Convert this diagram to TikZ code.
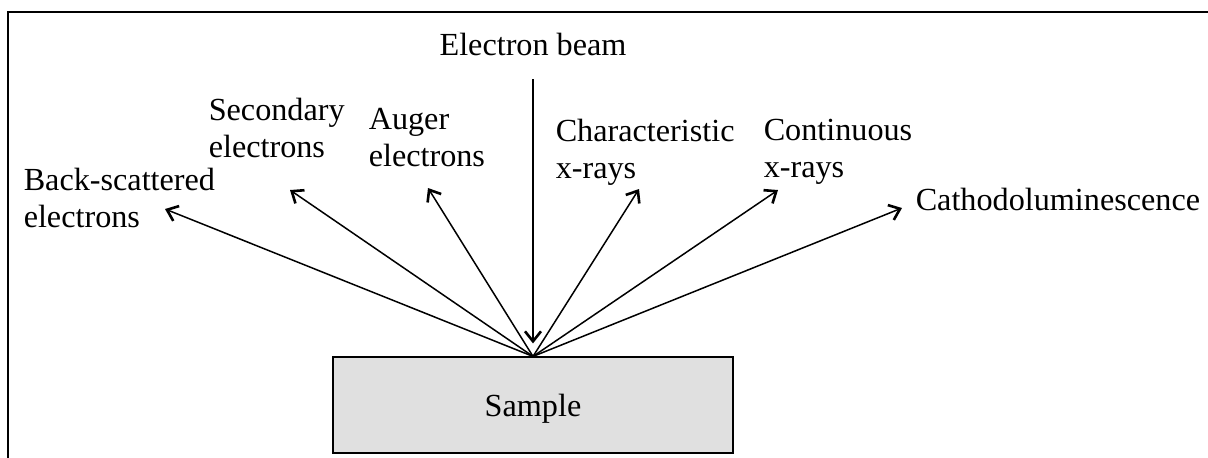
\documentclass[tikz,border=0pt]{standalone}
\usepackage{fontspec}
\setmainfont{Liberation Serif}
\usetikzlibrary{positioning,arrows.meta}

\begin{document}
\begin{tikzpicture}[x=0.5pt, y=-0.5pt, line width=0.75pt, >={Straight Barb[length=5pt,width=8pt,line width=1.3pt]},
    label/.style={inner sep=0pt, align=left, anchor=north west, font=\fontsize{16.1}{18.6}\selectfont},
    samplebox/.style={draw, fill=black!12, line width=0.6pt, minimum width=200pt, minimum height=48pt, text depth=0pt, font=\fontsize{16.1}{18.6}\selectfont}]
    \useasboundingbox (0,0) rectangle (1208,457);
    \draw[line width=1.4pt] (8,460) |- (1210,12);

    \node[samplebox] (sample) at (533,405) {Sample};
    \node[label, anchor=center] (beam) at (533,44) {Electron beam};

    \node[label] (bse) at (23,167) {Back-scattered\\electrons};
    \node[label] (se) at (208,97) {Secondary\\electrons};
    \node[label] (auger) at (368,107) {Auger\\electrons};
    \node[label] (charx) at (555,118) {Characteristic\\x-rays};
    \node[label] (contx) at (763,118) {Continuous\\x-rays};
    \node[label] (cl) at (915,187) {Cathodoluminescence};

    % arrow tips next to the labels
    \coordinate (bseTip) at (165,209);
    \coordinate (seTip) at (290,190);
    \coordinate (augerTip) at (428,188);
    \coordinate (charxTip) at (639,189);
    \coordinate (contxTip) at (778,190);
    \coordinate (clTip) at (902,208);

    \draw[->, shorten <=11.5pt, shorten >=6.5pt] (beam.south) -- (sample.north);
    \draw[->] (sample.north) -- (bseTip);
    \draw[->] (sample.north) -- (seTip);
    \draw[->] (sample.north) -- (augerTip);
    \draw[->] (sample.north) -- (charxTip);
    \draw[->] (sample.north) -- (contxTip);
    \draw[->] (sample.north) -- (clTip);
\end{tikzpicture}
\end{document}
